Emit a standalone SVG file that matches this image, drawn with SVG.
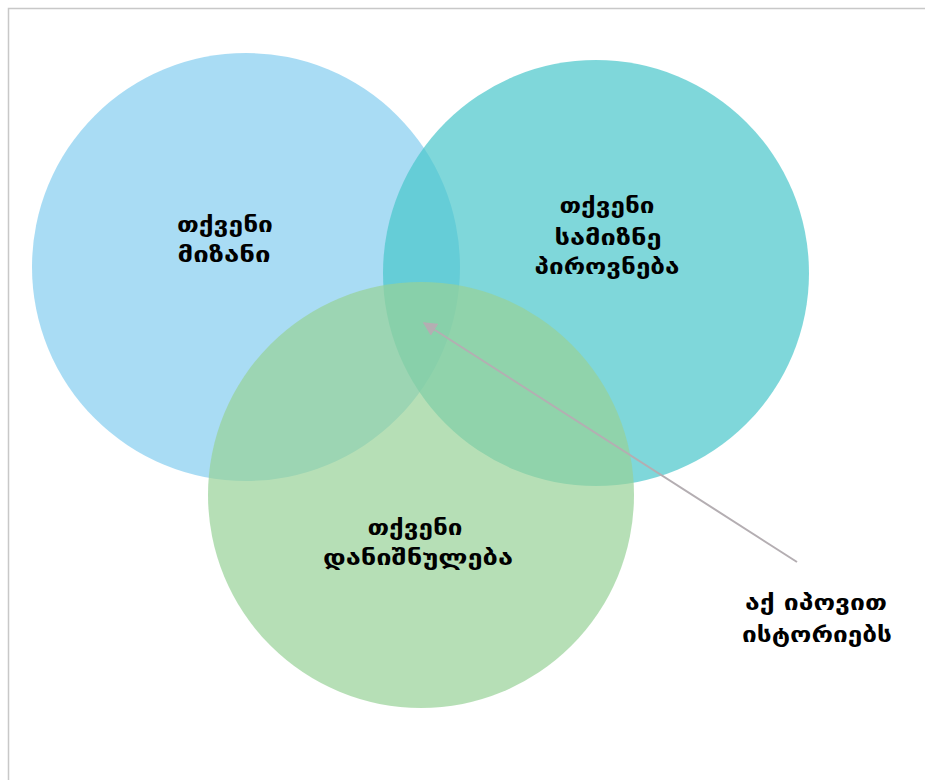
<svg xmlns="http://www.w3.org/2000/svg" width="925" height="780" viewBox="0 0 925 780">
<defs>
<style>
.c{opacity:0.7}
.t{font-family:"DejaVu Sans","Noto Sans",sans-serif;font-weight:bold;font-size:22px;fill:#000;text-anchor:middle}
.conn{stroke:#b4aeb2;stroke-width:2;fill:none}
</style>
<marker id="ah" viewBox="0 0 10 10" refX="9" refY="5" markerWidth="7" markerHeight="7" orient="auto" markerUnits="strokeWidth">
<path d="M0,0 L10,5 L0,10 z" fill="#b4aeb2"/>
</marker>
</defs>
<rect width="925" height="780" fill="#fff"/>
<rect x="8.5" y="8.5" width="930" height="790" fill="none" stroke="#c8c8c8" stroke-width="1.5"/>
<g id="node-goal">
<circle class="c" cx="246" cy="267" r="214" fill="#84cdef"/>
<text class="t" x="225" y="232" textLength="96" lengthAdjust="spacingAndGlyphs">თქვენი</text>
<text class="t" x="224" y="262" textLength="93" lengthAdjust="spacingAndGlyphs">მიზანი</text>
</g>
<g id="node-audience">
<circle class="c" cx="596" cy="273" r="213" fill="#48c6ca"/>
<text class="t" x="607" y="213" textLength="95" lengthAdjust="spacingAndGlyphs">თქვენი</text>
<text class="t" x="608" y="245" textLength="107" lengthAdjust="spacingAndGlyphs">სამიზნე</text>
<text class="t" x="607" y="274" textLength="145" lengthAdjust="spacingAndGlyphs">პიროვნება</text>
</g>
<g id="node-purpose">
<circle class="c" cx="421" cy="495" r="213" fill="#97d197"/>
<text class="t" x="415" y="535" textLength="95" lengthAdjust="spacingAndGlyphs">თქვენი</text>
<text class="t" x="418" y="565" textLength="190" lengthAdjust="spacingAndGlyphs">დანიშნულება</text>
</g>
<g id="node-label">
<text class="t" x="816" y="610" textLength="142" lengthAdjust="spacingAndGlyphs">აქ იპოვით</text>
<text class="t" x="817" y="642" textLength="150" lengthAdjust="spacingAndGlyphs">ისტორიებს</text>
</g>
<g id="connectors">
<line class="conn" x1="797" y1="562" x2="424" y2="323" marker-end="url(#ah)"/>
</g>
</svg>
